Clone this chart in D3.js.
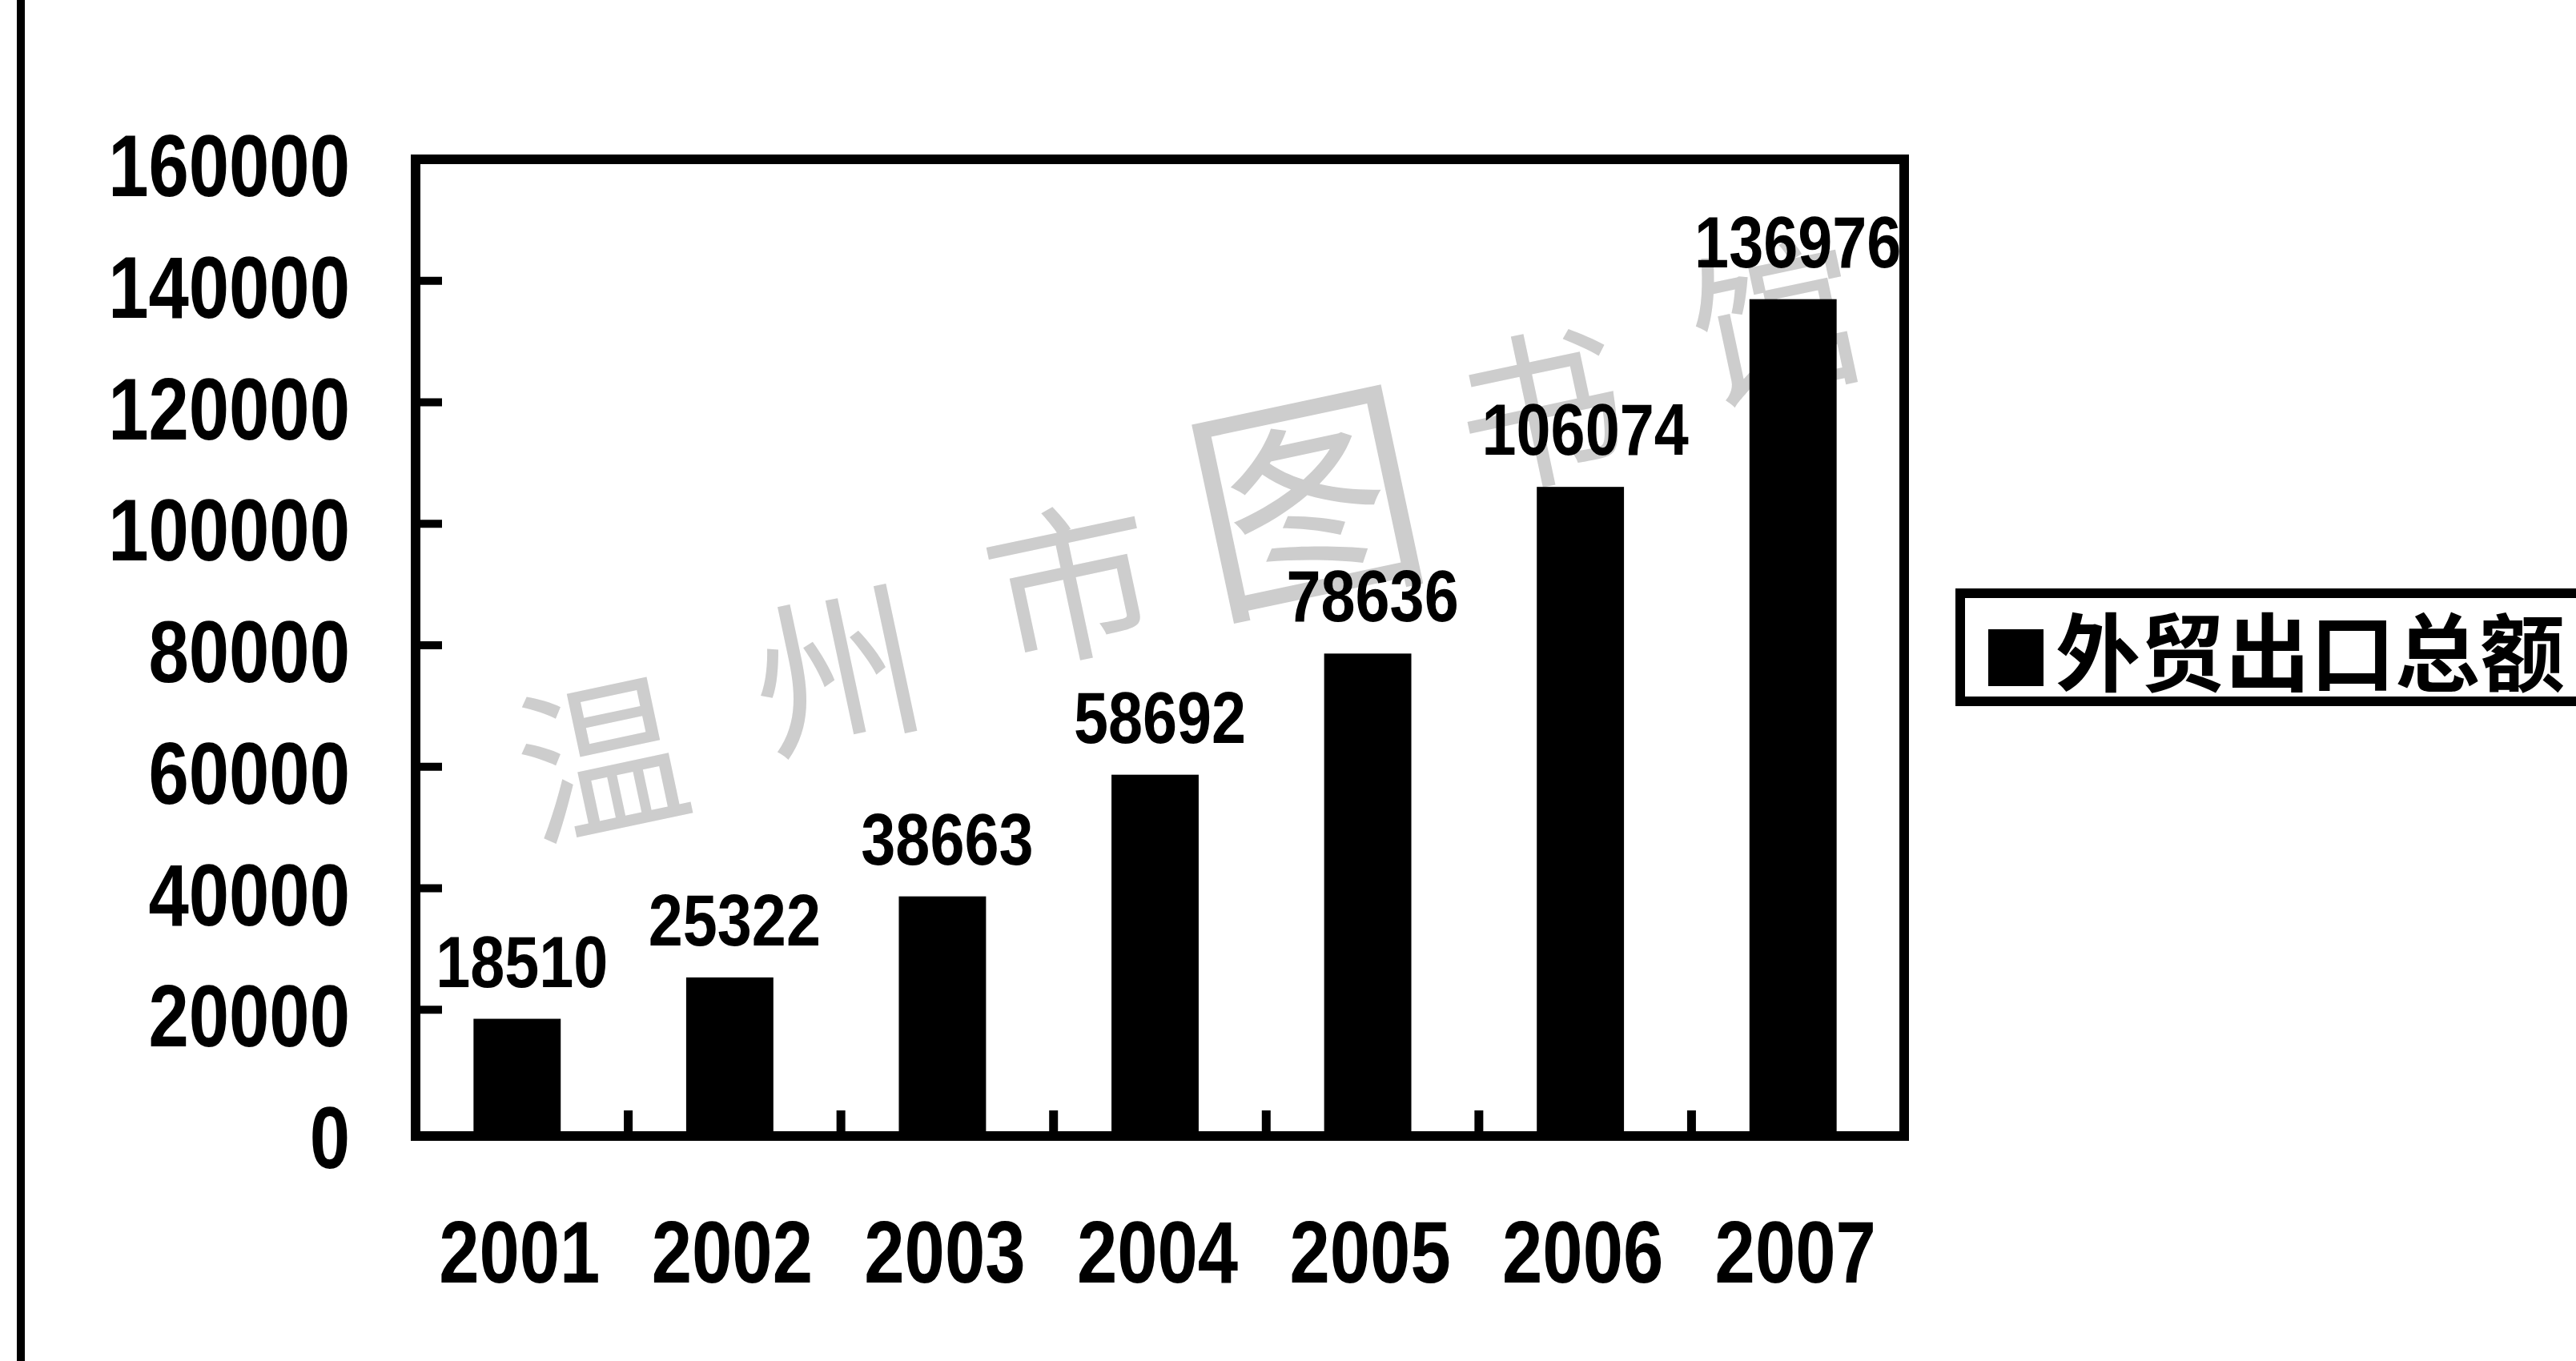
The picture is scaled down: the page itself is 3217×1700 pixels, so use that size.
<!DOCTYPE html>
<html>
<head>
<meta charset="utf-8">
<script src="https://cdn.jsdelivr.net/npm/d3@7/dist/d3.min.js"></script>
<style>
  html, body { margin: 0; padding: 0; background: #ffffff; }
  svg { display: block; }
</style>
</head>
<body>
<svg id="chart" width="3217" height="1700"></svg>
<script>
// ---- data ----
const years = ["2001", "2002", "2003", "2004", "2005", "2006", "2007"];
const exportValues = [18510, 25322, 38663, 58692, 78636, 106074, 136976];
const yTicks = [0, 20000, 40000, 60000, 80000, 100000, 120000, 140000, 160000];
const seriesName = "外贸出口总额";
const watermarkChars = ["温", "州", "市", "图", "书", "馆"];

// ---- layout ----
const svg = d3.select("#chart");
const plot = { left: 519, right: 2378, top: 199, bottom: 1419 };
const numFont = "'Liberation Sans', Arial, sans-serif";

const x = d3.scaleBand().domain(years).range([plot.left, plot.right]).padding(0);
const xBar = d3.scaleBand().domain(years).range([plot.left - 6, plot.right - 6])
  .paddingInner(0.59).paddingOuter(0.295);
const y = d3.scaleLinear().domain([0, 160000]).range([plot.bottom - 6, plot.top]);

function numText(sel, size, anchor) {
  return sel.attr("text-anchor", anchor)
    .attr("font-family", numFont).attr("font-weight", "bold")
    .attr("font-size", size).attr("fill", "#000");
}

// page-left vertical rule
svg.append("line").attr("x1", 26).attr("x2", 26).attr("y1", 0).attr("y2", 1700)
  .attr("stroke", "#000").attr("stroke-width", 10);

// watermark
svg.append("g").selectAll("text").data(watermarkChars).join("text")
  .attr("text-anchor", "middle")
  .attr("dominant-baseline", "central")
  .attr("font-family", "'Noto Sans CJK SC', sans-serif")
  .attr("font-weight", 400)
  .attr("font-size", (d, i) => i === 3 ? 290 : 210)
  .attr("transform", (d, i) => `translate(${749 + i * 293}, ${935 - i * 109}) rotate(-12)`)
  .attr("fill", "#cdcdcd")
  .text(d => d);

// bars
svg.append("g").selectAll("rect").data(exportValues).join("rect")
  .attr("x", (d, i) => xBar(years[i]))
  .attr("width", xBar.bandwidth())
  .attr("y", d => y(d))
  .attr("height", d => y(0) - y(d) + 6)
  .attr("fill", "#000");

// frame
svg.append("rect")
  .attr("x", plot.left).attr("y", plot.top)
  .attr("width", plot.right - plot.left).attr("height", plot.bottom - plot.top)
  .attr("fill", "none").attr("stroke", "#000").attr("stroke-width", 12);

// y axis: inner ticks (0 and max merge with the frame)
svg.append("g").selectAll("line").data(yTicks.filter(d => d > 0)).join("line")
  .attr("x1", plot.left).attr("x2", plot.left + 33)
  .attr("y1", d => y(d)).attr("y2", d => y(d))
  .attr("stroke", "#000").attr("stroke-width", 10);

// y tick labels
numText(svg.append("g").selectAll("text").data(yTicks).join("text"), 109, "end")
  .attr("transform", d => `translate(437, ${y(d) + 46}) scale(0.83, 1)`)
  .text(d => d3.format("d")(d));

// x axis: ticks between categories, pointing up
const boundaries = years.slice(1);
svg.append("g").selectAll("line").data(boundaries).join("line")
  .attr("x1", d => x(d)).attr("x2", d => x(d))
  .attr("y1", plot.bottom).attr("y2", plot.bottom - 32)
  .attr("stroke", "#000").attr("stroke-width", 11);

numText(svg.append("g").selectAll("text").data(years).join("text"), 109, "middle")
  .attr("transform", d => `translate(${(x(d) + x.bandwidth() / 2 + xBar(d) + xBar.bandwidth() / 2) / 2}, 1602) scale(0.83, 1)`)
  .text(d => d);

// data labels
numText(svg.append("g").selectAll("text").data(exportValues).join("text"), 90, "middle")
  .attr("transform", (d, i) => `translate(${x(years[i]) + x.bandwidth() / 2}, ${y(d) - 40}) scale(0.86, 1)`)
  .text(d => d);

// legend
const lg = svg.append("g");
lg.append("rect").attr("x", 2448).attr("y", 741).attr("width", 820).attr("height", 135)
  .attr("fill", "#fff").attr("stroke", "#000").attr("stroke-width", 12);
lg.append("rect").attr("x", 2483).attr("y", 786).attr("width", 69).attr("height", 71)
  .attr("fill", "#000");
lg.append("text").attr("x", 2567).attr("y", 855)
  .attr("font-family", "'Noto Sans CJK SC', sans-serif").attr("font-weight", "bold")
  .attr("font-size", 106).attr("fill", "#000")
  .text(seriesName);
</script>
</body>
</html>
